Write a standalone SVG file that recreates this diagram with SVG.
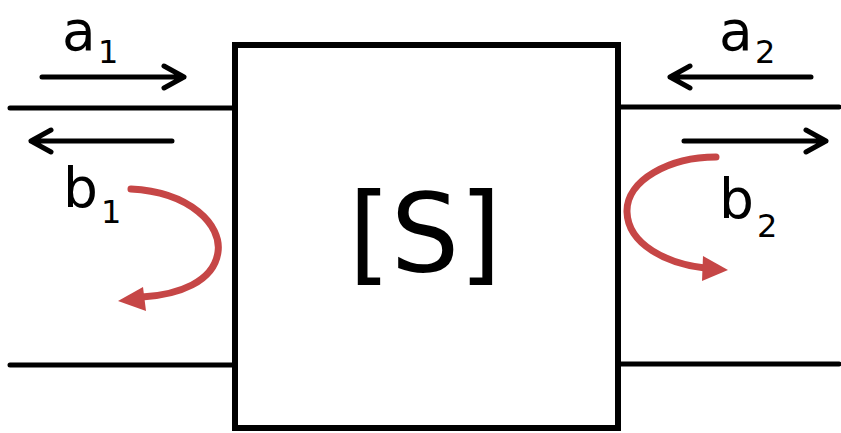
<svg xmlns="http://www.w3.org/2000/svg" width="841" height="433" viewBox="0 0 841 433">
<style>
.ln{stroke:#000;stroke-width:5;fill:none;stroke-linecap:round;stroke-linejoin:round}
.box{stroke:#000;stroke-width:6;fill:#fff}
.red{stroke:#c64646;stroke-width:7;fill:none;stroke-linecap:round}
.rh{fill:#c64646}
.t{font-family:"DejaVu Sans",sans-serif;fill:#000}
.big{font-size:55px}
.sub{font-size:32px}
</style>
<rect width="841" height="433" fill="#fff"/>
<g id="connectors">
<path class="ln" d="M10,108 H234 M10,365 H234 M618,107 H839 M618,364 H839"/>
<path class="ln" d="M42,77 H184 M164,66 L184,77 L164,88"/>
<path class="ln" d="M172,141 H31 M51,130 L31,141 L51,152"/>
<path class="ln" d="M811,77 H670 M690,66 L670,77 L690,88"/>
<path class="ln" d="M684,141 H826 M806,130 L826,141 L806,152"/>
<path class="red" d="M131,189 C190,192 222,225 218,252 C214,282 178,295 142,297"/>
<polygon class="rh" points="118,301 143,287 146,311"/>
<path class="red" d="M716,157 C670,157 626,180 627,212 C628,245 668,264 705,268"/>
<polygon class="rh" points="728,270 703,256 702,281"/>
</g>
<g id="S">
<rect class="box" x="235" y="45" width="383" height="383"/>
<text class="t" x="425" y="271" font-size="108" text-anchor="middle">[S]</text>
</g>
<g id="a1"><text class="t big" x="62" y="50">a</text><text class="t sub" x="98" y="63">1</text></g>
<g id="b1"><text class="t big" x="63" y="207">b</text><text class="t sub" x="101" y="223">1</text></g>
<g id="a2"><text class="t big" x="719" y="50">a</text><text class="t sub" x="755" y="63">2</text></g>
<g id="b2"><text class="t big" x="719" y="218">b</text><text class="t sub" x="757" y="237">2</text></g>
</svg>
